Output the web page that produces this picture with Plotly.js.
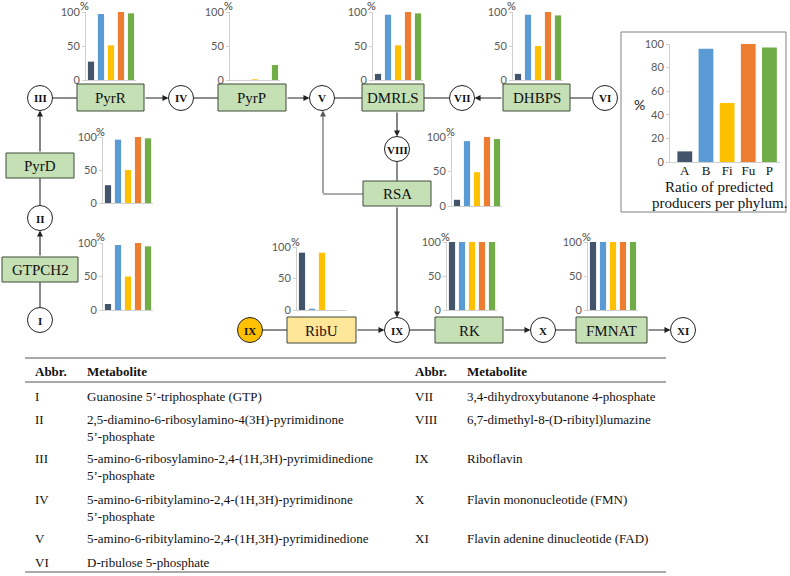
<!DOCTYPE html>
<html>
<head>
<meta charset="utf-8">
<script src="https://cdn.plot.ly/plotly-3.0.1.min.js"></script>
<style>
  html, body { margin: 0; padding: 0; background: #fff; }
  #chart { width: 790px; height: 576px; }
</style>
</head>
<body>
<div id="chart"></div>
<script>
// Data ------------------------------------------------------------------------
const phyla = ['A', 'B', 'Fi', 'Fu', 'P']
const phylumColours = ['#44546a', '#5b9bd5', '#ffc000', '#ed7d31', '#70ad47']

const pyrR = [27, 97, 51, 100, 98]
const pyrP = [0, 0, 1, 0, 22]
const dmrls = [9, 96, 51, 100, 98]
const dhbps = [9, 96, 50, 100, 95]
const pyrD = [27, 96, 50, 100, 98]
const gtpch2 = [9, 97, 50, 100, 95]
const rsa = [9, 94, 49, 100, 97]
const ribU = [91, 2, 91, 0, 0]
const rk = [100, 100, 100, 100, 100]
const fmnat = [100, 100, 100, 100, 100]
const producers = [9, 96, 50, 100, 97]

const abbrLeft = ['I', 'II', 'III', 'IV', 'V', 'VI']
const metabolitesLeft = [
  ['Guanosine 5’-triphosphate (GTP)'],
  ['2,5-diamino-6-ribosylamino-4(3H)-pyrimidinone', '5’-phosphate'],
  ['5-amino-6-ribosylamino-2,4-(1H,3H)-pyrimidinedione', '5’-phosphate'],
  ['5-amino-6-ribitylamino-2,4-(1H,3H)-pyrimidinone', '5’-phosphate'],
  ['5-amino-6-ribitylamino-2,4-(1H,3H)-pyrimidinedione'],
  ['D-ribulose 5-phosphate']
]
const abbrRight = ['VII', 'VIII', 'IX', 'X', 'XI']
const metabolitesRight = [
  '3,4-dihydroxybutanone 4-phosphate',
  '6,7-dimethyl-8-(D-ribityl)lumazine',
  'Riboflavin',
  'Flavin mononucleotide (FMN)',
  'Flavin adenine dinucleotide (FAD)'
]

// Utils -----------------------------------------------------------------------
const W = 790
const H = 576
const px = x => x / W
const py = y => 1 - y / H
const SERIF = 'Liberation Serif, Times New Roman, serif'
const SANS = 'Lato, Liberation Sans, sans-serif'

const line = (x1, y1, x2, y2, color = '#404040') => ({
  type: 'line', xref: 'paper', yref: 'paper',
  x0: px(x1), y0: py(y1), x1: px(x2), y1: py(y2),
  line: { color, width: 1.2 }
})
const arrow = (x1, y1, x2, y2, color = '#222') => ({
  xref: 'paper', yref: 'paper', x: px(x2), y: py(y2),
  ax: x1 - x2, ay: y1 - y2, axref: 'pixel', ayref: 'pixel',
  text: '', showarrow: true, arrowhead: 2, arrowsize: 1.1, arrowwidth: 1.1,
  arrowcolor: color, standoff: 0, startstandoff: 0
})
const label = (x, y, text, size, opts = {}) => ({
  xref: 'paper', yref: 'paper', x: px(x), y: py(y), text,
  showarrow: false, xanchor: opts.anchor || 'center', yanchor: 'middle',
  font: { family: opts.family || SERIF, size, color: opts.color || '#111' }
})

// Pathway diagram -------------------------------------------------------------
const boxes = [
  ['PyrR', 77, 84, 144, 111],
  ['PyrP', 218, 84, 286, 111],
  ['DMRLS', 362, 84, 424, 111],
  ['DHBPS', 503, 84, 570, 111],
  ['PyrD', 6, 153, 74, 178],
  ['GTPCH2', 2, 257, 78, 282],
  ['RSA', 363, 181, 431, 206],
  ['RibU', 287, 317, 356, 343, 'yellow'],
  ['RK', 435, 317, 503, 343],
  ['FMNAT', 576, 317, 647, 343]
]
const circles = [
  ['III', 40, 98], ['IV', 181, 98], ['V', 322, 98], ['VII', 462, 98],
  ['VI', 605, 98], ['VIII', 397, 149], ['II', 40, 218], ['I', 40, 320],
  ['IX', 250, 330, 'orange'], ['IX', 397, 330], ['X', 543, 330], ['XI', 683, 330]
]
const R = 12.5

const shapes = [
  line(52.5, 98, 77, 98), line(193.5, 98, 218, 98), line(334.5, 98, 362, 98),
  line(424, 98, 449.5, 98), line(570, 98, 592.5, 98),
  line(397, 161.5, 397, 181), line(363, 194, 323, 194, '#595959'),
  line(40, 178, 40, 205.5), line(40, 282, 40, 307.5),
  line(262.5, 330, 287, 330), line(409.5, 330, 435, 330), line(555.5, 330, 576, 330)
]
const annotations = [
  arrow(144, 98, 168.5, 98), arrow(286, 98, 309.5, 98), arrow(503, 98, 474.5, 98),
  arrow(397, 111, 397, 136.5), arrow(323, 194.5, 323, 110.5, '#595959'),
  arrow(397, 206, 397, 317.5), arrow(40, 153, 40, 110.5), arrow(40, 257, 40, 230.5),
  arrow(356, 330, 384.5, 330), arrow(503, 330, 530.5, 330), arrow(647, 330, 670.5, 330)
]

boxes.forEach(([text, x0, y0, x1, y1, kind]) => {
  shapes.push({
    type: 'rect', xref: 'paper', yref: 'paper',
    x0: px(x0), y0: py(y1), x1: px(x1), y1: py(y0),
    fillcolor: kind === 'yellow' ? '#ffe699' : '#c5e0b4',
    line: { color: '#3f4a3a', width: 1 }
  })
  annotations.push(label((x0 + x1) / 2, (y0 + y1) / 2 + 0.5, text, 15))
})

circles.forEach(([text, x, y, kind]) => {
  shapes.push({
    type: 'circle', xref: 'paper', yref: 'paper',
    x0: px(x - R), y0: py(y + R), x1: px(x + R), y1: py(y - R),
    fillcolor: kind === 'orange' ? '#ffc000' : '#ffffff',
    line: { color: '#222', width: 1 }
  })
  annotations.push(label(x, y + 0.5, '<b>' + text + '</b>', 11))
})

// Small bar charts ------------------------------------------------------------
const charts = [
  { values: pyrR, left: 86, base: 80, top: 12 },
  { values: pyrP, left: 230, base: 80, top: 12 },
  { values: dmrls, left: 373, base: 80, top: 12 },
  { values: dhbps, left: 513, base: 80, top: 12 },
  { values: pyrD, left: 103, base: 203, top: 137 },
  { values: gtpch2, left: 103, base: 310, top: 243 },
  { values: rsa, left: 452, base: 206, top: 137 },
  { values: ribU, left: 297, base: 310, top: 247 },
  { values: rk, left: 447, base: 310, top: 242 },
  { values: fmnat, left: 588, base: 310, top: 242 }
]

const data = []
const layout = {
  width: W,
  height: H,
  margin: { l: 0, r: 0, t: 0, b: 0 },
  paper_bgcolor: '#ffffff',
  plot_bgcolor: 'rgba(0,0,0,0)',
  showlegend: false,
  bargap: 0.38,
  shapes,
  annotations
}

charts.forEach(({ values, left, base, top }, i) => {
  const n = i === 0 ? '' : String(i + 1)
  data.push({
    type: 'bar', x: phyla, y: values, xaxis: 'x' + n, yaxis: 'y' + n,
    marker: { color: phylumColours }, hoverinfo: 'skip'
  })
  layout['xaxis' + n] = {
    domain: [px(left), px(left + 50)], anchor: 'y' + n, type: 'category',
    range: [-0.5, 4.5], showticklabels: false, showgrid: false, zeroline: false,
    showline: true, linecolor: '#d0d0d0', linewidth: 1, ticks: '', fixedrange: true
  }
  layout['yaxis' + n] = {
    domain: [py(base), py(top)], anchor: 'x' + n, range: [0, 100],
    tickvals: [0, 50, 100], showgrid: false, zeroline: false,
    showline: true, linecolor: '#d0d0d0', linewidth: 1,
    ticks: 'outside', ticklen: 3, tickcolor: '#d0d0d0',
    tickfont: { family: SANS, size: 11, color: '#595959' }, fixedrange: true
  }
  annotations.push(label(left - 2, top - 6, '%', 11, { family: SANS, color: '#404040' }))
})

// Summary chart in the box ----------------------------------------------------
const k = String(charts.length + 1)
data.push({
  type: 'bar', x: phyla, y: producers, xaxis: 'x' + k, yaxis: 'y' + k,
  marker: { color: phylumColours }, width: 0.7, hoverinfo: 'skip'
})
layout['xaxis' + k] = {
  domain: [px(670), px(780)], anchor: 'y' + k, type: 'category',
  range: [-0.7, 4.5], showgrid: false, zeroline: false,
  showline: true, linecolor: '#d0d0d0', ticks: '', ticklabelstandoff: -4,
  tickfont: { family: SERIF, size: 13, color: '#111' }, fixedrange: true
}
layout['yaxis' + k] = {
  domain: [py(162), py(44)], anchor: 'x' + k, range: [0, 100], dtick: 20,
  showgrid: false, zeroline: false, showline: true, linecolor: '#d0d0d0',
  ticks: 'outside', ticklen: 3, tickcolor: '#d0d0d0',
  tickfont: { family: SANS, size: 11, color: '#595959' }, fixedrange: true
}
shapes.push({
  type: 'rect', xref: 'paper', yref: 'paper',
  x0: px(621), y0: py(212), x1: px(786), y1: py(32),
  line: { color: '#808080', width: 1 }
})
annotations.push(label(639, 104, '%', 14, { family: SANS, color: '#222' }))
annotations.push(label(719, 187, 'Ratio of predicted', 15))
annotations.push(label(719, 203, 'producers per phylum.', 15))

// Metabolite table ------------------------------------------------------------
shapes.push(line(25, 358, 666, 358, '#555'))
shapes.push(line(25, 382, 666, 382, '#555'))
shapes.push(line(25, 572, 666, 572, '#555'))

annotations.push(label(33, 371, '<b>Abbr.</b>', 13, { anchor: 'left' }))
annotations.push(label(85, 371, '<b>Metabolite</b>', 13, { anchor: 'left' }))
annotations.push(label(413, 371, '<b>Abbr.</b>', 13, { anchor: 'left' }))
annotations.push(label(465, 371, '<b>Metabolite</b>', 13, { anchor: 'left' }))

const rowsLeftY = [396, 419, 458, 499, 538, 562]
abbrLeft.forEach((abbr, i) => {
  annotations.push(label(33, rowsLeftY[i], abbr, 13, { anchor: 'left' }))
  metabolitesLeft[i].forEach((text, j) => {
    annotations.push(label(85, rowsLeftY[i] + j * 17, text, 13, { anchor: 'left' }))
  })
})

const rowsRightY = [396, 419, 458, 499, 538]
abbrRight.forEach((abbr, i) => {
  annotations.push(label(413, rowsRightY[i], abbr, 13, { anchor: 'left' }))
  annotations.push(label(465, rowsRightY[i], metabolitesRight[i], 13, { anchor: 'left' }))
})

Plotly.newPlot('chart', data, layout, { staticPlot: true, displayModeBar: false })
</script>
</body>
</html>
